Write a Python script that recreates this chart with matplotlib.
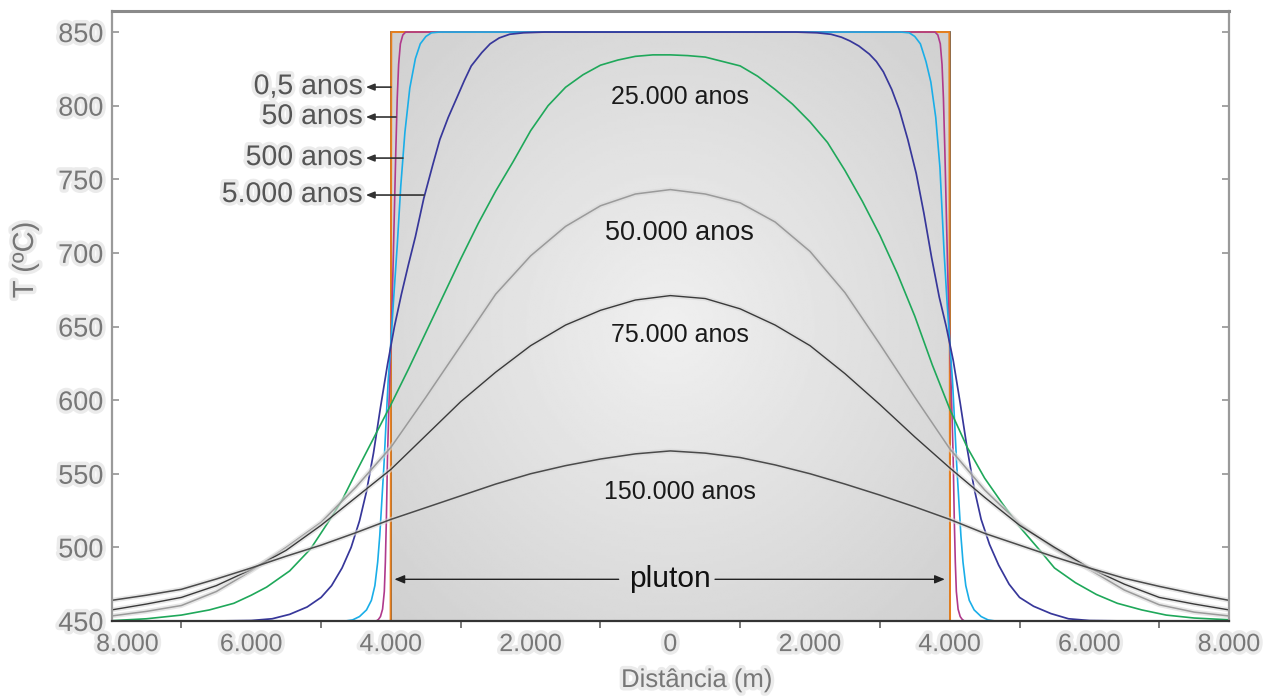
import matplotlib
matplotlib.use("Agg")
import matplotlib.pyplot as plt
import matplotlib.patheffects as pe
from matplotlib.patches import Rectangle
from matplotlib.transforms import ScaledTranslation
import numpy as np

plt.rcParams["font.family"] = ["Liberation Sans", "DejaVu Sans"]

# ---- data (distance in m, temperature in degC) ----
x_05 = [-8000, -4005, -4000, -3995, 3995, 4000, 4005, 8000]
T_05 = [450, 450, 650, 850, 850, 650, 450, 450]

x_50 = [-8000, -4210, -4180, -4150, -4120, -4095, -4080, -4065, -4050, -4030,
        -4010, -3990, -3970, -3950, -3930, -3910, -3890, -3865, -3830, -3790,
        3790, 3830, 3865, 3890, 3910, 3930, 3950, 3970, 3990, 4010, 4030, 4050,
        4065, 4080, 4095, 4120, 4150, 4180, 4210, 8000]
T_50 = [450, 450, 451, 453, 458, 470, 490, 520, 560, 595, 625, 655, 690, 730,
        770, 805, 828, 842, 848, 850, 850, 848, 842, 828, 805, 770, 730, 690,
        655, 625, 595, 560, 520, 490, 470, 458, 453, 451, 450, 450]

x_500 = [-8000, -4650, -4550, -4450, -4350, -4280, -4230, -4190, -4160, -4130,
         -4100, -4070, -4040, -4000, -3960, -3910, -3860, -3800, -3730, -3650,
         -3580, -3500, -3420, -3300, 3300, 3420, 3500, 3580, 3660, 3730, 3800,
         3860, 3920, 3960, 4000, 4040, 4070, 4100, 4130, 4160, 4190, 4230, 4280,
         4350, 4450, 4550, 4650, 8000]
T_500 = [450, 450, 450.7, 453, 457.5, 464, 474, 490, 508, 532, 556, 585, 613,
         640, 670, 705, 745, 782, 812, 832, 842, 847, 849.5, 850, 850, 849.5,
         847, 842, 830, 816, 792, 758, 700, 668, 640, 613, 585, 556, 532, 508,
         490, 474, 464, 457.5, 453, 450.7, 450, 450]

x_5000 = [-8000, -6500, -6000, -5700, -5450, -5200, -5000, -4850, -4700, -4570,
          -4450, -4350, -4250, -4150, -4050, -3950, -3850, -3750, -3650, -3530,
          -3400, -3300, -3180, -3060, -2950, -2850, -2700, -2580, -2450, -2300,
          -2100, -1800, 1800, 2100, 2300, 2450, 2570, 2700, 2850, 2950, 3050,
          3170, 3280, 3400, 3520, 3630, 3740, 3850, 3950, 4050, 4150, 4250, 4350,
          4450, 4570, 4700, 4850, 5000, 5200, 5450, 5700, 6000, 6500, 8000]
T_5000 = [450, 450, 450.3, 451.5, 454.5, 459.5, 466, 474, 486, 500, 518, 538,
          564, 595, 624, 650, 672, 692, 711, 737, 760, 777, 792, 805, 817, 827,
          836, 842, 846, 848.5, 849.5, 850, 850, 849.5, 848.5, 846.5, 844,
          840.5, 835, 830, 823, 811, 797, 777, 754, 727, 697, 670, 650, 627,
          598, 567, 540, 519, 502, 488, 475, 466, 460, 455, 451.5, 450.3, 450,
          450]

x_25000 = [-8000, -7500, -7000, -6600, -6250, -6000, -5780, -5450, -5150, -4900,
           -4700, -4500, -4250, -4000, -3750, -3500, -3250, -3000, -2750, -2500,
           -2250, -2000, -1750, -1500, -1250, -1000, -750, -500, -250, 0, 250,
           500, 750, 1000, 1250, 1500, 1750, 2000, 2250, 2500, 2750, 3000, 3250,
           3500, 3750, 4000, 4250, 4500, 4750, 5000, 5290, 5500, 5800, 6100,
           6400, 6750, 7100, 7500, 8000]
T_25000 = [450.2, 451.5, 454, 457.5, 462, 467.5, 473, 484, 499, 517, 532, 551,
           574, 597, 621, 646, 671, 696, 720, 742, 762, 783, 800, 812.5, 821,
           827.5, 831, 833.5, 834.5, 834.5, 834, 833, 830, 827, 820, 811, 801,
           789, 775, 756, 735, 712, 686, 657, 624, 594, 568, 547, 530, 514, 498,
           486, 476, 468, 462, 457.5, 454, 452, 450.8]

x_50000 = [-8000, -7500, -7000, -6500, -6000, -5500, -5000, -4500, -4000, -3500,
           -3000, -2500, -2000, -1500, -1000, -500, 0, 500, 1000, 1500, 2000,
           2500, 3000, 3500, 4000, 4500, 5000, 5500, 6000, 6500, 7000, 7500,
           8000]
T_50000 = [453.4, 456.5, 460.5, 470, 484, 500, 517, 541, 568, 602, 637, 672,
           698, 718, 732, 740, 743, 740, 734, 721, 701, 673, 638, 602, 567, 539,
           516, 499, 485, 471, 461, 456, 453.4]

x_75000 = [-8000, -7500, -7000, -6500, -6000, -5500, -5000, -4500, -4000, -3500,
           -3000, -2500, -2000, -1500, -1000, -500, 0, 500, 1000, 1500, 2000,
           2500, 3000, 3500, 4000, 4500, 5000, 5500, 6000, 6500, 7000, 7500,
           8000]
T_75000 = [457.5, 461.5, 466, 474, 485, 498, 515, 534, 553, 576, 599, 619, 637,
           651, 661, 668, 671, 669, 662, 651, 637, 618, 597, 575, 554, 534, 515,
           500, 486, 475, 466, 461.5, 457.5]

x_150000 = [-8000, -7500, -7000, -6500, -6000, -5500, -5000, -4500, -4000, -3500,
            -3000, -2500, -2000, -1500, -1000, -500, 0, 500, 1000, 1500, 2000,
            2500, 3000, 3500, 4000, 4500, 5000, 5500, 6000, 6500, 7000, 7500,
            8000]
T_150000 = [464, 467.5, 471.5, 478.5, 486, 494, 501.5, 510, 519, 527, 535, 543,
            550, 555.5, 560, 563.5, 565.5, 564, 561, 556, 550, 543, 535.5, 527.5,
            519, 509.5, 501.5, 493.5, 486, 479, 473.5, 468.5, 464]

XTICKS = [-8000, -6000, -4000, -2000, 0, 2000, 4000, 6000, 8000]
XTICK_LABELS = ["8.000", "6.000", "4.000", "2.000", "0",
                "2.000", "4.000", "6.000", "8.000"]
YTICKS = [450, 500, 550, 600, 650, 700, 750, 800, 850]

GLOW = [pe.withStroke(linewidth=5, foreground="#ebebeb")]

fig = plt.figure(figsize=(12.75, 6.96), dpi=100)
ax = fig.add_axes([0.0875, 0.1078, 0.8765, 0.8764])

# pluton body: grey block, lighter towards the middle
gx, gy = np.meshgrid(np.linspace(-1, 1, 400), np.linspace(-1, 1, 200))
rad = np.sqrt(gx ** 2 + gy ** 2) / np.sqrt(2)
ax.imshow(0.94 - 0.125 * rad, cmap="gray", vmin=0, vmax=1,
          extent=[-4000, 4000, 450, 850], aspect="auto",
          interpolation="bilinear", zorder=0)
ax.add_patch(Rectangle((-4000, 450), 8000, 400, fill=False,
                       edgecolor="#444444", lw=1.2, zorder=1))

soft = [pe.Stroke(linewidth=3.5, foreground="#d8d8d8", alpha=0.6), pe.Normal()]
ax.plot(x_05, T_05, color="#e8801e", lw=1.4, zorder=2)
ax.plot(x_50, T_50, color="#b03a8c", lw=1.2, zorder=2)
ax.plot(x_500, T_500, color="#1aaee8", lw=1.2, zorder=2)
ax.plot(x_5000, T_5000, color="#37379a", lw=1.25, zorder=2)
ax.plot(x_25000, T_25000, color="#1fa85a", lw=1.2, zorder=2)
ax.plot(x_50000, T_50000, color="#9a9a9a", lw=1.1, zorder=2, path_effects=soft)
ax.plot(x_75000, T_75000, color="#3a3a3a", lw=1.0, zorder=2, path_effects=soft)
ax.plot(x_150000, T_150000, color="#4a4a4a", lw=1.1, zorder=2, path_effects=soft)

ax.set_xlim(-8000, 8000)
ax.set_ylim(450, 864.3)

# curve labels inside the pluton
ax.text(136, 806, "25.000 anos", ha="center", va="center", fontsize=18, color="#1a1a1a")
ax.text(136, 713.5, "50.000 anos", ha="center", va="center", fontsize=19.5, color="#1a1a1a")
ax.text(136, 644, "75.000 anos", ha="center", va="center", fontsize=18, color="#1a1a1a")
ax.text(136, 537.5, "150.000 anos", ha="center", va="center", fontsize=18, color="#1a1a1a")

# short-time labels on the left with arrows
left_labels = [("0,5 anos", 812.6, -4000), ("50 anos", 792.3, -3928),
               ("500 anos", 764.4, -3828), ("5.000 anos", 739.3, -3528)]
for txt, ty, tail in left_labels:
    ax.text(-4400, ty, txt, ha="right", va="center", fontsize=20.5,
            color="#555555", path_effects=GLOW)
    ax.annotate("", xy=(-4360, ty), xytext=(tail, ty),
                arrowprops=dict(arrowstyle="-|>,head_length=0.5,head_width=0.2",
                                color="#333333", lw=1.2, shrinkA=0, shrinkB=0))

# pluton width
ax.text(0, 478.5, "pluton", ha="center", va="center", fontsize=21.5, color="#111111")
ax.annotate("", xy=(-3950, 478.3), xytext=(-740, 478.3),
            arrowprops=dict(arrowstyle="-|>,head_length=0.6,head_width=0.25",
                            color="#222222", lw=1.0, shrinkA=0, shrinkB=0))
ax.annotate("", xy=(3930, 478.3), xytext=(640, 478.3),
            arrowprops=dict(arrowstyle="-|>,head_length=0.6,head_width=0.25",
                            color="#222222", lw=1.0, shrinkA=0, shrinkB=0))

# axes frame
for side, col, w in [("left", "#9a9a9a", 1.6), ("top", "#8a8a8a", 2.2),
                     ("right", "#9a9a9a", 1.6), ("bottom", "#333333", 1.6)]:
    ax.spines[side].set_color(col)
    ax.spines[side].set_linewidth(w)

ax.set_xticks(XTICKS)
ax.set_xticklabels(XTICK_LABELS)
ax.set_xticks([-7000, -5000, -3000, -1000, 1000, 3000, 5000, 7000], minor=True)
ax.set_yticks(YTICKS)
ax.tick_params(axis="x", which="major", length=0, pad=8, labelsize=18,
               labelcolor="#777777")
ax.tick_params(axis="x", which="minor", length=5, width=1.1, color="#555555",
               direction="out")
ax.tick_params(axis="y", which="major", direction="in", length=5, width=1.1,
               color="#8a8a8a", left=True, right=True, pad=6, labelsize=19.5,
               labelcolor="#777777")
for lab in ax.get_xticklabels() + ax.get_yticklabels():
    lab.set_path_effects(GLOW)
# the leftmost "8.000" sits a bit inside the frame in the reference
first = ax.get_xticklabels()[0]
first.set_transform(first.get_transform() + ScaledTranslation(0.16, 0, fig.dpi_scale_trans))

fig.text(697 / 1275, 1 - 680 / 696, "Distância (m)", ha="center", va="center",
         fontsize=18.5, color="#777777", path_effects=GLOW)
fig.text(25 / 1275, 1 - 260 / 696, "T (ºC)", ha="center", va="center",
         rotation=90, fontsize=21, color="#777777", path_effects=GLOW)

fig.savefig("out.png", dpi=100)
